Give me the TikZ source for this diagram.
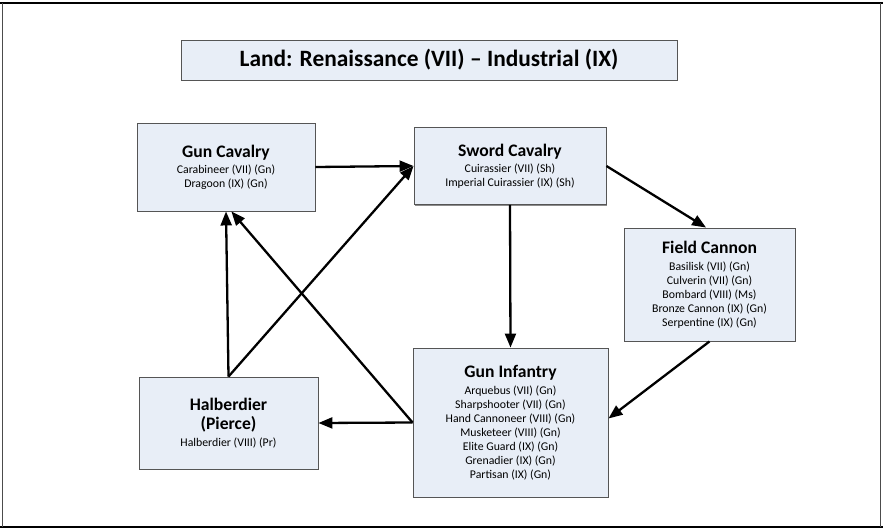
\documentclass[tikz,border=0pt]{standalone}
\usepackage{fontspec}
\setmainfont{Carlito}
\usetikzlibrary{arrows.meta,calc,shadows}
\definecolor{boxfill}{HTML}{E8EEF7}
\definecolor{boxdraw}{HTML}{555555}
\newcommand\hdrfont{\fontsize{17.6}{21}\selectfont\bfseries}
\newcommand\itmfont{\fontsize{11.8}{14}\selectfont}
\begin{document}
\begin{tikzpicture}[x=1pt,y=-1pt,
  unitbox/.style={draw=boxdraw, line width=0.9pt, fill=boxfill, inner sep=0pt,
    align=center, font=\itmfont,
    drop shadow={shadow xshift=1.2pt,shadow yshift=-1.2pt,fill=black!45,opacity=1}},
  arr/.style={line width=2.3pt, -{Triangle[length=14pt,width=11pt]}},
  frameh/.style={line width=1.3pt, black},
  framev/.style={line width=0.6pt, black!70}]
\useasboundingbox (0,0) rectangle (883,530);
% frame
\draw[frameh] (0,3) -- (883,3);
\draw[frameh] (0,527) -- (883,527);
\draw[framev] (2,3) -- (2,527);
\draw[framev] (880,3) -- (880,527);
% title
\node[unitbox, minimum width=496pt, minimum height=40pt,
  font=\fontsize{23.4}{28}\selectfont\bfseries] (title) at (429,60)
  {Land: Renaissance (VII) \textendash{} Industrial (IX)};
% units
\node[unitbox, minimum width=178pt, minimum height=88pt] (gc) at (226,167)
  {{\hdrfont Gun Cavalry}\\[2pt] Carabineer (VII) (Gn)\\ Dragoon (IX) (Gn)};
\node[unitbox, minimum width=192pt, minimum height=77pt] (sc) at (510,166)
  {{\hdrfont Sword Cavalry}\\[2pt] Cuirassier (VII) (Sh)\\ Imperial Cuirassier (IX) (Sh)};
\node[unitbox, minimum width=171pt, minimum height=113pt] (fc) at (709.5,284.5)
  {{\hdrfont Field Cannon}\\[3pt] Basilisk (VII) (Gn)\\ Culverin (VII) (Gn)\\ Bombard (VIII) (Ms)\\ Bronze Cannon (IX) (Gn)\\ Serpentine (IX) (Gn)};
\node[unitbox, minimum width=179pt, minimum height=92pt] (hb) at (228.5,423)
  {{\hdrfont Halberdier}\\[5pt] {\hdrfont (Pierce)}\\[3pt] Halberdier (VIII) (Pr)};
\node[unitbox, minimum width=195pt, minimum height=149pt] (gi) at (510.5,422.5)
  {{\hdrfont Gun Infantry}\\[3pt] Arquebus (VII) (Gn)\\ Sharpshooter (VII) (Gn)\\ Hand Cannoneer (VIII) (Gn)\\ Musketeer (VIII) (Gn)\\ Elite Guard (IX) (Gn)\\ Grenadier (IX) (Gn)\\ Partisan (IX) (Gn)};
% connectors
\draw[arr] (gc.east) -- (sc.west);
\draw[arr] (hb.north) -- (gc.south);
\draw[arr] (hb.north) -- (sc.west);
\draw[arr] (gi.west) -- ($(gc.south west)!0.53!(gc.south east)$);
\draw[arr] (gi.west) -- (hb.east);
\draw[arr] (sc.east) -- ($(fc.north west)!0.48!(fc.north east)$);
\draw[arr] (sc.south) -- (gi.north);
\draw[arr] (fc.south) -- ($(gi.east)+(0,-4)$);
\end{tikzpicture}
\end{document}
